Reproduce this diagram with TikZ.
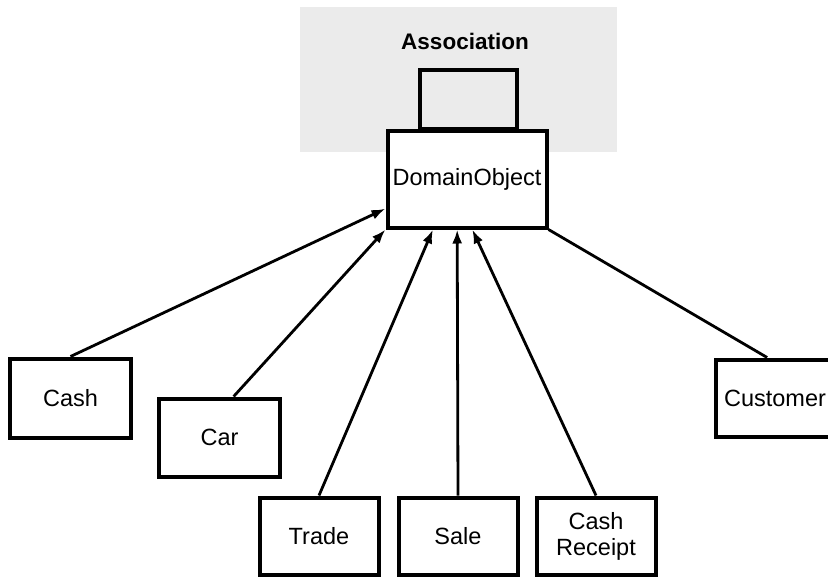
\documentclass[tikz,border=0pt]{standalone}
\usepackage{fontspec}
\setmainfont{Liberation Sans}
\usetikzlibrary{arrows.meta}
\begin{document}
\begin{tikzpicture}[x=1pt,y=-1pt,
  umlbox/.style={draw, line width=4pt, fill=white, inner sep=0pt, align=center,
    minimum width=119pt, minimum height=78pt, font=\fontsize{23.5}{26}\selectfont},
  conn/.style={line width=2.8pt, -{Latex[length=14pt,width=10pt]}},
  plain/.style={line width=2.8pt}]
\clip (0,0) rectangle (828,579);
\fill[white] (0,0) rectangle (828,579);
\fill[gray!16] (300,7) rectangle (617,152);
\node[font=\bfseries\fontsize{22.5}{25}\selectfont] (assoc) at (465,41) {Association};
\node[draw, line width=4pt, minimum width=97pt, minimum height=59pt, inner sep=0pt] (top) at (468,99.5) {};
\node[umlbox, minimum width=159pt, minimum height=97pt] (dom) at (467,179) {DomainObject};
\node[umlbox, minimum width=121pt, minimum height=79pt] (cash) at (70.5,398) {Cash};
\node[umlbox, minimum width=121pt, minimum height=78pt] (car) at (219.5,437.5) {Car};
\node[umlbox, minimum height=77pt] (trade) at (319,536) {Trade};
\node[umlbox, minimum height=77pt] (sale) at (458,536) {Sale};
\node[umlbox, minimum height=77pt] (receipt) at (596,536) {Cash\\Receipt};
\node[umlbox, minimum height=77pt] (cust) at (775,398) {Customer};
\draw[conn] (cash.north) -- (dom.200);
\draw[conn] (car.71) -- (dom.south west);
\draw[conn] (trade.north) -- (dom.236);
\draw[conn] (sale.north) -- (dom.259);
\draw[conn] (receipt.north) -- (dom.276);
\draw[plain] (cust.101) -- (dom.south east);
\end{tikzpicture}
\end{document}
